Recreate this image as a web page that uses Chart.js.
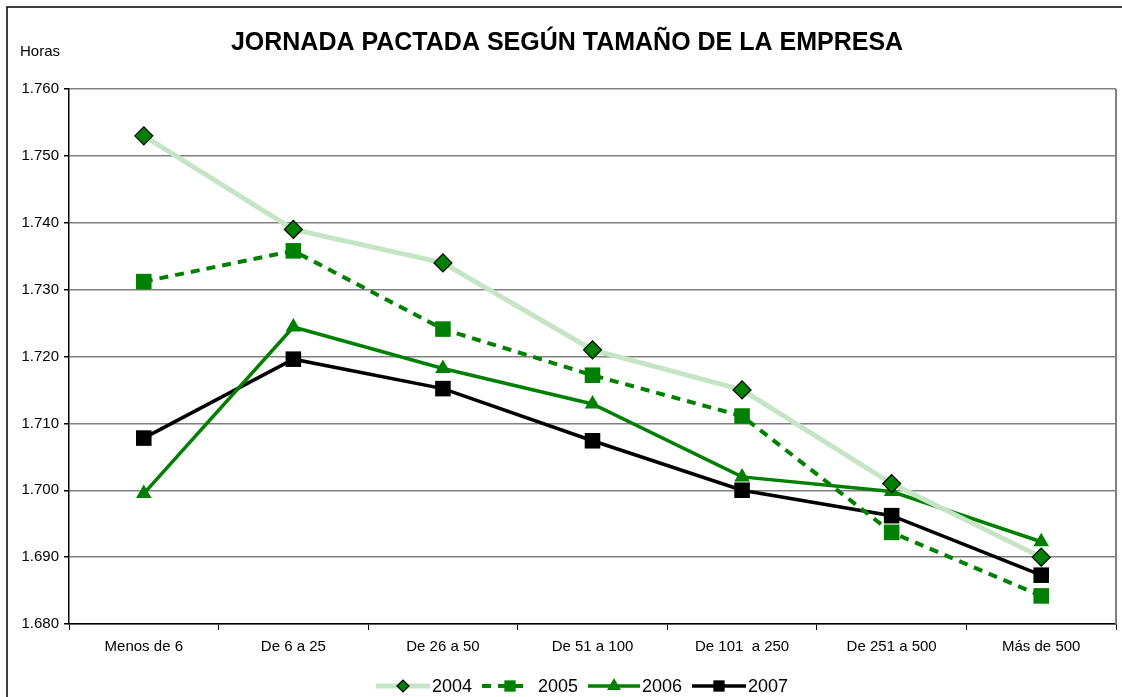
<!DOCTYPE html>
<html>
<head>
<meta charset="utf-8">
<script src="https://cdn.jsdelivr.net/npm/chart.js@4/dist/chart.umd.min.js"></script>
<style>
  html, body { margin: 0; padding: 0; background: #fff; }
  #wrap { width: 1122px; height: 697px; }
</style>
</head>
<body>
<div id="wrap"><canvas id="jornadaChart" width="1122" height="697"></canvas></div>
<script>
const categories = ['Menos de 6', 'De 6 a 25', 'De 26 a 50', 'De 51 a 100', 'De 101  a 250', 'De 251 a 500', 'Más de 500'];
const years = ['2004', '2005', '2006', '2007'];
const horas2004 = [1753, 1739, 1734, 1721, 1715, 1701, 1690];
const horas2005 = [1731.2, 1735.8, 1724.1, 1717.2, 1711.1, 1693.7, 1684.2];
const horas2006 = [1699.5, 1724.4, 1718.2, 1712.9, 1702.0, 1699.8, 1692.3];
const horas2007 = [1707.8, 1719.6, 1715.2, 1707.4, 1700.0, 1696.2, 1687.3];
const yTicks = [1680, 1690, 1700, 1710, 1720, 1730, 1740, 1750, 1760];

const GREEN = '#008000';
const PALE = '#c6e5c6';
const FONT = 'Arial, "Liberation Sans", sans-serif';

const fmt = v => '1.' + String(v - 1000).padStart(3, '0');

const datasets = [
  { label: years[0], data: horas2004, borderColor: PALE, borderWidth: 5, pointStyle: 'rectRot', pointRadius: 9, pointBackgroundColor: GREEN, pointBorderColor: '#000', pointBorderWidth: 1.2 },
  { label: years[1], data: horas2005, borderColor: GREEN, borderWidth: 4, borderDash: [9, 7], pointStyle: 'rect', pointRadius: 11, pointBackgroundColor: GREEN, pointBorderColor: GREEN, pointBorderWidth: 0 },
  { label: years[2], data: horas2006, borderColor: GREEN, borderWidth: 3.5, pointStyle: 'triangle', pointRadius: 9, pointBackgroundColor: GREEN, pointBorderColor: GREEN, pointBorderWidth: 0 },
  { label: years[3], data: horas2007, borderColor: '#000', borderWidth: 3.5, pointStyle: 'rect', pointRadius: 11, pointBackgroundColor: '#000', pointBorderColor: '#000', pointBorderWidth: 0 }
].map(d => Object.assign(d, { fill: false, tension: 0, pointHoverRadius: d.pointRadius }));

// frame, title, "Horas", plot edge and bottom legend
const decorations = {
  id: 'decorations',
  beforeDraw(chart) {
    const ctx = chart.ctx;
    ctx.save();
    ctx.fillStyle = '#fff';
    ctx.fillRect(0, 0, chart.width, chart.height);
    ctx.restore();
  },
  afterDraw(chart) {
    const ctx = chart.ctx;
    const area = chart.chartArea;
    ctx.save();
    ctx.strokeStyle = '#000';
    ctx.lineWidth = 1.5;
    ctx.strokeRect(7, 7, chart.width + 10, chart.height + 10);

    ctx.strokeStyle = '#808080';
    ctx.lineWidth = 2;
    ctx.beginPath();
    ctx.moveTo(area.right, area.top);
    ctx.lineTo(area.right, area.bottom);
    ctx.stroke();

    ctx.fillStyle = '#000';
    ctx.textBaseline = 'middle';
    ctx.textAlign = 'center';
    ctx.font = 'bold 25px ' + FONT;
    ctx.fillText('JORNADA PACTADA SEGÚN TAMAÑO DE LA EMPRESA', 567, 43);
    ctx.textAlign = 'left';
    ctx.font = '15px ' + FONT;
    ctx.fillText('Horas', 20, 52);

    // legend
    const y = 686;
    const items = [
      { x: 376, text: 432 },
      { x: 482, text: 538 },
      { x: 588, text: 642 },
      { x: 692, text: 748 }
    ];
    chart.data.datasets.forEach((ds, i) => {
      const it = items[i];
      ctx.save();
      ctx.strokeStyle = ds.borderColor;
      ctx.lineWidth = ds.borderWidth;
      ctx.setLineDash(ds.borderDash || []);
      ctx.beginPath();
      if (i === 1) {
        ctx.moveTo(it.x, y);
        ctx.lineTo(it.x + 44, y);
      } else {
        ctx.moveTo(it.x, y);
        ctx.lineTo(it.text - 2, y);
      }
      ctx.stroke();
      ctx.restore();
      const cx = i === 1 ? 510 : (it.x + it.text - 2) / 2;
      ctx.save();
      ctx.fillStyle = ds.pointBackgroundColor;
      ctx.strokeStyle = ds.pointBorderColor;
      ctx.lineWidth = ds.pointBorderWidth;
      Chart.helpers.drawPoint(ctx, {
        pointStyle: ds.pointStyle,
        radius: ds.pointStyle === 'rectRot' ? 6 : 8,
        rotation: 0,
        borderWidth: ds.pointBorderWidth
      }, cx, y);
      ctx.restore();
      ctx.fillStyle = '#000';
      ctx.font = '18px ' + FONT;
      ctx.textAlign = 'left';
      ctx.fillText(ds.label, it.text, y + 1);
    });
    ctx.restore();
  }
};

new Chart(document.getElementById('jornadaChart'), {
  type: 'line',
  data: { labels: categories, datasets: datasets },
  plugins: [decorations],
  options: {
    responsive: false,
    animation: false,
    layout: { autoPadding: false, padding: { top: 89, right: 6, left: 0, bottom: 0 } },
    plugins: {
      legend: { display: false },
      title: { display: false },
      tooltip: { enabled: false }
    },
    scales: {
      x: {
        offset: true,
        afterFit(scale) {
          scale.height = 73;
          scale.paddingLeft = 0;
          scale.paddingRight = 0;
        },
        grid: { offset: true, drawOnChartArea: false, drawTicks: true, tickLength: 6, color: '#000', lineWidth: 1 },
        border: { display: true, color: '#000', width: 1.5 },
        ticks: { color: '#000', font: { family: FONT, size: 15 }, padding: 8, maxRotation: 0, autoSkip: false }
      },
      y: {
        min: 1680,
        max: 1760,
        afterFit(scale) { scale.width = 69; },
        afterBuildTicks(scale) { scale.ticks = yTicks.map(v => ({ value: v })); },
        grid: { color: '#808080', lineWidth: 1.5, tickLength: 5, tickColor: '#000' },
        border: { display: true, color: '#000', width: 1.5 },
        ticks: { color: '#000', font: { family: FONT, size: 15 }, padding: 5, callback: v => fmt(v) }
      }
    }
  }
});
</script>
</body>
</html>
